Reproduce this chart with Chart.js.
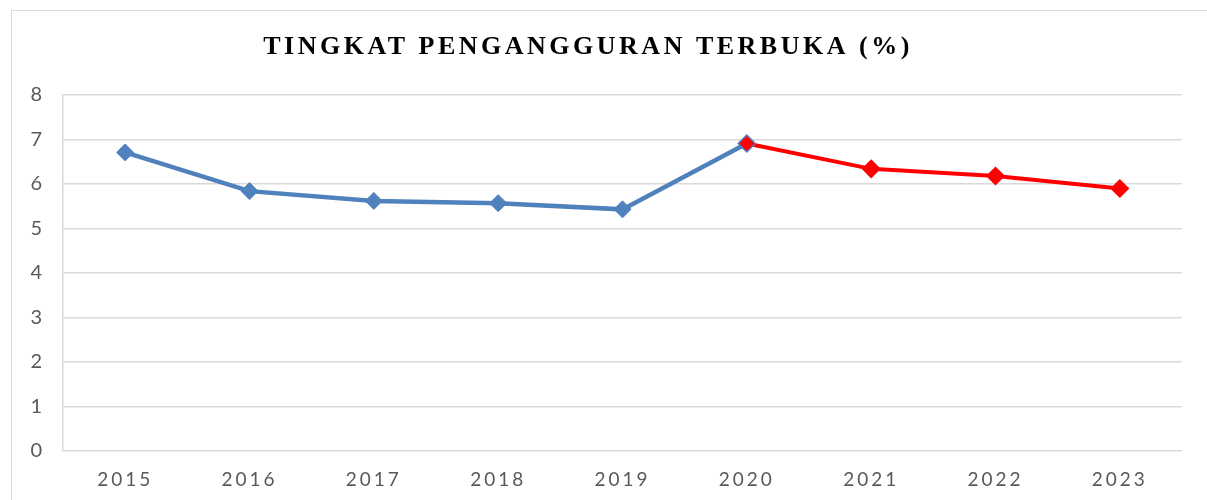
<!DOCTYPE html>
<html>
<head>
    <style>
        body {
            margin: 0;
            background: #ffffff;
        }
        #frame {
            position: absolute;
            left: 11px;
            top: 10px;
            width: 1300px;
            height: 600px;
            border-left: 1.5px solid #d9d9d9;
            border-top: 1.5px solid #d9d9d9;
        }
        #wrap {
            position: absolute;
            left: 0;
            top: 0;
            width: 1207px;
            height: 500px;
        }
    </style>
    <script src="https://cdn.jsdelivr.net/npm/chart.js"></script>
</head>
<body>
    <div id="frame"></div>
    <div id="wrap">
        <canvas id="myChart"></canvas>
    </div>
    <script>
        // data
        var chartTitle = 'TINGKAT PENGANGGURAN TERBUKA (%)';
        var years = ['2015', '2016', '2017', '2018', '2019', '2020', '2021', '2022', '2023'];
        var rateBefore = [6.71, 5.84, 5.62, 5.57, 5.43, 6.91, null, null, null];
        var rateAfter = [null, null, null, null, null, 6.91, 6.34, 6.18, 5.90];
        var yTicks = [0, 1, 2, 3, 4, 5, 6, 7, 8];

        var blue = '#4f81bd';
        var red = '#ff0000';
        var gray = '#595959';

        // title with letter spacing + spaced tick labels
        var titlePlugin = {
            id: 'spacedTitle',
            beforeDraw: function(chart) {
                chart.ctx.letterSpacing = '3px';
            },
            afterDraw: function(chart) {
                var ctx = chart.ctx;
                ctx.save();
                ctx.letterSpacing = '3.5px';
                ctx.font = 'bold 26px "Liberation Serif", "Times New Roman", serif';
                ctx.fillStyle = '#000000';
                ctx.textAlign = 'center';
                ctx.textBaseline = 'middle';
                ctx.fillText(chartTitle, 588, 47);
                ctx.restore();
            }
        };

        var ctx = document.getElementById('myChart').getContext('2d');
        var myChart = new Chart(ctx, {
            type: 'line',
            data: {
                labels: years,
                datasets: [{
                    label: 'after',
                    data: rateAfter,
                    borderColor: red,
                    backgroundColor: red,
                    borderWidth: 4,
                    pointStyle: 'rectRot',
                    pointRadius: 8.5,
                    pointBackgroundColor: red,
                    pointBorderColor: rateAfter.map(function(v, i) {
                        return i === 5 ? blue : red;
                    }),
                    pointBorderWidth: 1.5,
                    spanGaps: false,
                    tension: 0
                }, {
                    label: 'before',
                    data: rateBefore,
                    borderColor: blue,
                    backgroundColor: blue,
                    borderWidth: 4.5,
                    pointStyle: 'rectRot',
                    pointRadius: 8.5,
                    pointBackgroundColor: blue,
                    pointBorderColor: blue,
                    pointBorderWidth: 1,
                    spanGaps: false,
                    tension: 0
                }]
            },
            options: {
                responsive: true,
                maintainAspectRatio: false,
                animation: false,
                layout: {
                    padding: { top: 95, right: 25, bottom: 0, left: 0 }
                },
                plugins: {
                    legend: { display: false },
                    title: { display: false },
                    tooltip: { enabled: false }
                },
                scales: {
                    x: {
                        offset: true,
                        grid: { display: false, drawTicks: false },
                        border: { display: false },
                        ticks: {
                            color: gray,
                            padding: 17,
                            font: { family: 'Lato', size: 19 }
                        },
                        afterFit: function(scale) { scale.height = 49; }
                    },
                    y: {
                        min: 0,
                        max: 8,
                        afterBuildTicks: function(scale) {
                            scale.ticks = yTicks.map(function(v) { return { value: v }; });
                        },
                        grid: { color: '#d9d9d9', lineWidth: 1.5, drawTicks: false },
                        border: { display: true, color: '#d9d9d9', width: 1.5 },
                        ticks: {
                            color: gray,
                            padding: 18,
                            font: { family: 'Lato', size: 20 }
                        },
                        afterFit: function(scale) { scale.width = 63; }
                    }
                }
            },
            plugins: [titlePlugin]
        });
    </script>
</body>
</html>
